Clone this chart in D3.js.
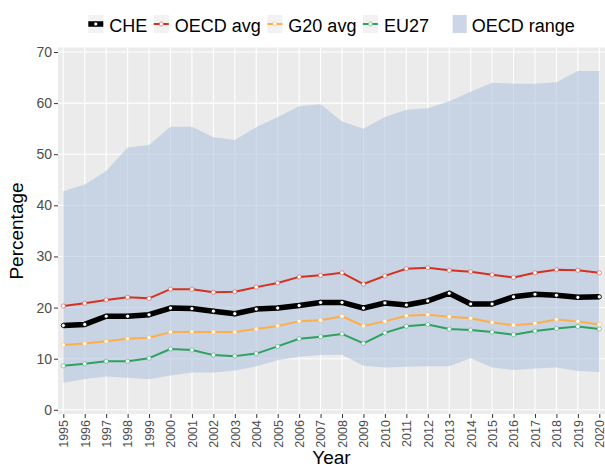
<!DOCTYPE html>
<html>
<head>
<meta charset="utf-8">
<script src="https://cdn.jsdelivr.net/npm/d3@7"></script>
<style>
  body { margin: 0; background: #fff; }
  svg { display: block; font-family: 'Liberation Sans', Arial, sans-serif; }
</style>
</head>
<body>
<svg id="chart"></svg>
<script>
// DATA
const years = [1995, 1996, 1997, 1998, 1999, 2000, 2001, 2002, 2003, 2004, 2005, 2006, 2007,
               2008, 2009, 2010, 2011, 2012, 2013, 2014, 2015, 2016, 2017, 2018, 2019, 2020];
const yTicks = [0, 10, 20, 30, 40, 50, 60, 70];

const che = [16.5, 16.7, 18.3, 18.3, 18.6, 19.9, 19.8, 19.3, 18.8, 19.7, 19.9, 20.4, 21.0,
             21.0, 19.9, 20.9, 20.5, 21.3, 22.8, 20.7, 20.7, 22.1, 22.6, 22.4, 22.0, 22.1];
const oecdAvg = [20.3, 20.85, 21.5, 22.0, 21.8, 23.6, 23.6, 23.0, 23.1, 24.0, 24.8, 26.0, 26.3,
                 26.8, 24.6, 26.2, 27.6, 27.8, 27.3, 27.0, 26.4, 25.9, 26.8, 27.4, 27.3, 26.8];
const g20Avg = [12.7, 12.96, 13.4, 13.9, 14.1, 15.2, 15.2, 15.2, 15.2, 15.8, 16.4, 17.3, 17.5,
                18.3, 16.4, 17.3, 18.4, 18.6, 18.2, 17.9, 17.1, 16.55, 16.9, 17.65, 17.3, 16.7];
const eu27 = [8.6, 9.0, 9.5, 9.5, 10.1, 11.9, 11.7, 10.7, 10.5, 11.0, 12.4, 13.9, 14.3,
              14.85, 13.0, 15.05, 16.35, 16.7, 15.8, 15.6, 15.2, 14.7, 15.4, 15.9, 16.3, 15.8];
const rangeLow = [5.3, 6.05, 6.5, 6.25, 6.0, 6.7, 7.3, 7.3, 7.7, 8.5, 9.7, 10.4, 10.7,
                  10.75, 8.6, 8.3, 8.4, 8.5, 8.5, 10.1, 8.3, 7.8, 8.1, 8.3, 7.6, 7.4];
const rangeHigh = [42.75, 44.1, 46.7, 51.3, 51.8, 55.4, 55.4, 53.3, 52.8, 55.3, 57.3, 59.4, 59.8,
                   56.4, 55.0, 57.3, 58.7, 59.0, 60.35, 62.2, 64.0, 63.8, 63.8, 64.1, 66.3, 66.3];

const width = 605;
const height = 466;
const panel = { left: 58, right: 605, top: 47.5, bottom: 414 };
const rangeFill = '#B0C4DE';

// series drawn back to front, legend uses them front to back
const series = [
    { name: 'EU27', values: eu27, color: '#2CA25F', size: 2 },
    { name: 'G20 avg', values: g20Avg, color: '#FDAE4B', size: 2 },
    { name: 'OECD avg', values: oecdAvg, color: '#D7301F', size: 2 },
    { name: 'CHE', values: che, color: '#000000', size: 5.5 }
];

const svg = d3.select('#chart')
    .attr('width', width)
    .attr('height', height);

// SCALES
const x = d3.scaleLinear().domain(d3.extent(years)).range([63.3, 599.3]);
const y = d3.scaleLinear().domain([0, 70]).range([409.8, 52]);

// PANEL + GRID
svg.append('rect')
    .attr('x', panel.left)
    .attr('y', panel.top)
    .attr('width', panel.right - panel.left)
    .attr('height', panel.bottom - panel.top)
    .attr('fill', '#EBEBEB');

const grid = svg.append('g').attr('stroke', '#fff').attr('stroke-width', 1.1);
grid.selectAll('.h').data(yTicks).join('line')
    .attr('x1', panel.left).attr('x2', panel.right)
    .attr('y1', d => y(d)).attr('y2', d => y(d));
grid.selectAll('.v').data(years).join('line')
    .attr('y1', panel.top).attr('y2', panel.bottom)
    .attr('x1', d => x(d)).attr('x2', d => x(d));

// OECD RANGE
const area = d3.area()
    .x((d, i) => x(years[i]))
    .y0((d, i) => y(rangeLow[i]))
    .y1(d => y(d));

svg.append('path')
    .datum(rangeHigh)
    .attr('d', area)
    .attr('fill', rangeFill)
    .attr('fill-opacity', 0.6);

// LINES + POINTS
const line = d3.line()
    .x((d, i) => x(years[i]))
    .y(d => y(d));

series.forEach(s => {
    svg.append('path')
        .datum(s.values)
        .attr('d', line)
        .attr('fill', 'none')
        .attr('stroke', s.color)
        .attr('stroke-width', s.size)
        .attr('stroke-linejoin', 'round');

    svg.append('g').selectAll('circle')
        .data(s.values)
        .join('circle')
        .attr('cx', (d, i) => x(years[i]))
        .attr('cy', d => y(d))
        .attr('r', 2.1)
        .attr('fill', '#fff')
        .attr('stroke', s.color)
        .attr('stroke-opacity', s.name === 'CHE' ? 1 : 0.55)
        .attr('stroke-width', 0.9);
});

// AXES
const yAxis = svg.append('g')
    .attr('transform', `translate(${panel.left},0)`)
    .call(d3.axisLeft(y).tickValues(yTicks).tickSize(4).tickPadding(2));

const xAxis = svg.append('g')
    .attr('transform', `translate(0,${panel.bottom})`)
    .call(d3.axisBottom(x).tickValues(years).tickFormat(d3.format('d')).tickSize(4));

xAxis.selectAll('text')
    .attr('transform', 'rotate(-90)')
    .attr('x', -6)
    .attr('y', 0)
    .attr('dy', '0.35em')
    .style('text-anchor', 'end');

[xAxis, yAxis].forEach(a => {
    a.select('.domain').remove();
    a.selectAll('line').attr('stroke', '#333333');
    a.selectAll('text')
        .attr('fill', '#4D4D4D')
        .style('font-size', '14px')
        .style('font-family', "'Liberation Sans', Arial, sans-serif");
});
xAxis.selectAll('text').style('font-size', '12.5px');

// AXIS TITLES
svg.append('text')
    .attr('transform', 'translate(23,231) rotate(-90)')
    .attr('text-anchor', 'middle')
    .style('font-size', '19px')
    .text('Percentage');

svg.append('text')
    .attr('x', (panel.left + panel.right) / 2)
    .attr('y', 464)
    .attr('text-anchor', 'middle')
    .style('font-size', '19px')
    .text('Year');

// LEGEND
const legend = svg.append('g');
let lx = 88.3;
series.slice().reverse().forEach(s => {
    const item = legend.append('g').attr('transform', `translate(${lx},15)`);
    item.append('rect').attr('width', 15).attr('height', 18).attr('fill', '#F2F2F2');
    item.append('line')
        .attr('x1', 0).attr('x2', 15).attr('y1', 9).attr('y2', 9)
        .attr('stroke', s.color).attr('stroke-width', s.size);
    item.append('circle')
        .attr('cx', 7.5).attr('cy', 9).attr('r', 2.1)
        .attr('fill', '#fff').attr('stroke', s.color)
        .attr('stroke-opacity', s.name === 'CHE' ? 1 : 0.55)
        .attr('stroke-width', 0.9);
    const label = item.append('text')
        .attr('x', 21).attr('y', 16.5)
        .style('font-size', '18px')
        .text(s.name);
    lx += 21 + label.node().getComputedTextLength() + 6.5;
});

const rangeItem = legend.append('g').attr('transform', 'translate(452.7,15)');
rangeItem.append('rect').attr('width', 14).attr('height', 18).attr('fill', '#F2F2F2');
rangeItem.append('rect').attr('width', 14).attr('height', 18)
    .attr('fill', rangeFill).attr('fill-opacity', 0.6);
rangeItem.append('text')
    .attr('x', 19).attr('y', 16.5)
    .style('font-size', '18px')
    .text('OECD range');
</script>
</body>
</html>
